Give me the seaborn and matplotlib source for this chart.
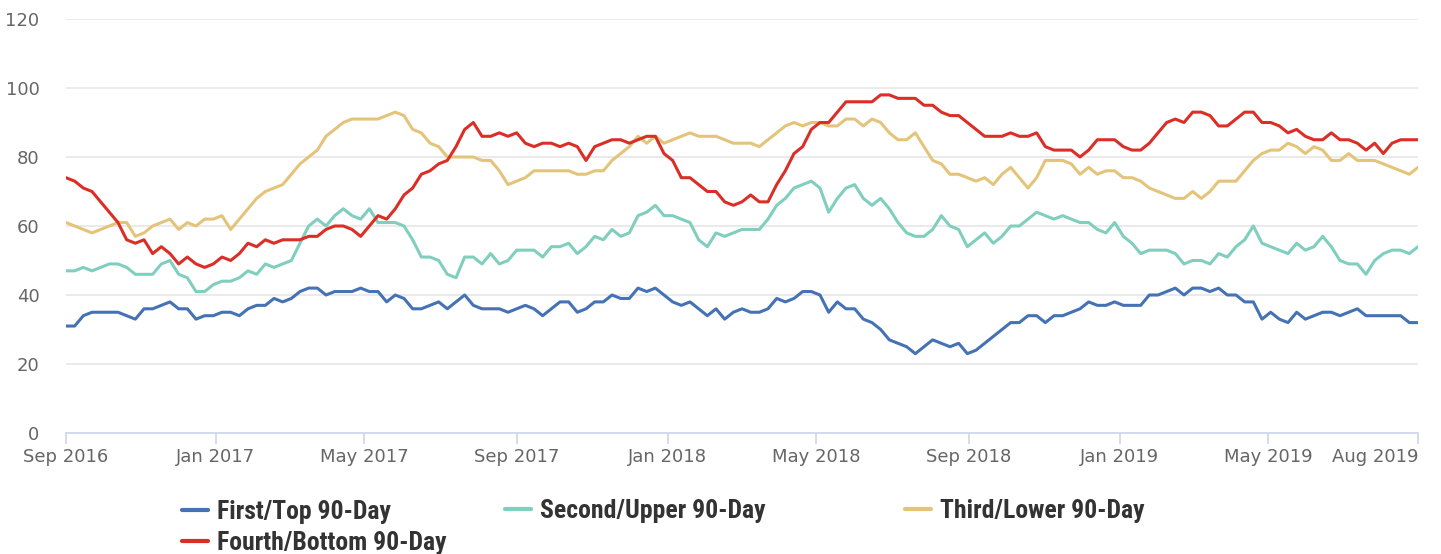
import numpy as np
import pandas as pd
import matplotlib
matplotlib.use("Agg")
import matplotlib.pyplot as plt
from matplotlib.lines import Line2D
import seaborn as sns

# weekly readings, Sep 2016 - Aug 2019
first_top = [31, 31, 34, 35, 35, 35, 35, 34, 33, 36, 36, 37, 38, 36, 36, 33, 34, 34, 35, 35, 34, 36, 37, 37, 39, 38, 39, 41,
             42, 42, 40, 41, 41, 41, 42, 41, 41, 38, 40, 39, 36, 36, 37, 38, 36, 38, 40, 37, 36, 36, 36, 35, 36, 37,
             36, 34, 36, 38, 38, 35, 36, 38, 38, 40, 39, 39, 42, 41, 42, 40, 38, 37, 38, 36, 34, 36, 33, 35, 36, 35, 35,
             36, 39, 38, 39, 41, 41, 40, 35, 38, 36, 36, 33, 32, 30, 27, 26, 25, 23, 25, 27, 26, 25, 26, 23, 24, 26,
             28, 30, 32, 32, 34, 34, 32, 34, 34, 35, 36, 38, 37, 37, 38, 37, 37, 37, 40, 40, 41, 42, 40, 42, 42, 41, 42,
             40, 40, 38, 38, 33, 35, 33, 32, 35, 33, 34, 35, 35, 34, 35, 36, 34, 34, 34, 34, 34, 32, 32]
second_upper = [47, 47, 48, 47, 48, 49, 49, 48, 46, 46, 46, 49, 50, 46, 45, 41, 41, 43, 44, 44, 45, 47, 46, 49, 48, 49, 50, 55,
                60, 62, 60, 63, 65, 63, 62, 65, 61, 61, 61, 60, 56, 51, 51, 50, 46, 45, 51, 51, 49, 52, 49, 50, 53, 53,
                53, 51, 54, 54, 55, 52, 54, 57, 56, 59, 57, 58, 63, 64, 66, 63, 63, 62, 61, 56, 54, 58, 57, 58, 59, 59, 59,
                62, 66, 68, 71, 72, 73, 71, 64, 68, 71, 72, 68, 66, 68, 65, 61, 58, 57, 57, 59, 63, 60, 59, 54, 56, 58,
                55, 57, 60, 60, 62, 64, 63, 62, 63, 62, 61, 61, 59, 58, 61, 57, 55, 52, 53, 53, 53, 52, 49, 50, 50, 49, 52,
                51, 54, 56, 60, 55, 54, 53, 52, 55, 53, 54, 57, 54, 50, 49, 49, 46, 50, 52, 53, 53, 52, 54]
third_lower = [61, 60, 59, 58, 59, 60, 61, 61, 57, 58, 60, 61, 62, 59, 61, 60, 62, 62, 63, 59, 62, 65, 68, 70, 71, 72, 75, 78,
               80, 82, 86, 88, 90, 91, 91, 91, 91, 92, 93, 92, 88, 87, 84, 83, 80, 80, 80, 80, 79, 79, 76, 72, 73, 74,
               76, 76, 76, 76, 76, 75, 75, 76, 76, 79, 81, 83, 86, 84, 86, 84, 85, 86, 87, 86, 86, 86, 85, 84, 84, 84, 83,
               85, 87, 89, 90, 89, 90, 90, 89, 89, 91, 91, 89, 91, 90, 87, 85, 85, 87, 83, 79, 78, 75, 75, 74, 73, 74,
               72, 75, 77, 74, 71, 74, 79, 79, 79, 78, 75, 77, 75, 76, 76, 74, 74, 73, 71, 70, 69, 68, 68, 70, 68, 70, 73,
               73, 73, 76, 79, 81, 82, 82, 84, 83, 81, 83, 82, 79, 79, 81, 79, 79, 79, 78, 77, 76, 75, 77]
fourth_bottom = [74, 73, 71, 70, 67, 64, 61, 56, 55, 56, 52, 54, 52, 49, 51, 49, 48, 49, 51, 50, 52, 55, 54, 56, 55, 56, 56, 56,
                 57, 57, 59, 60, 60, 59, 57, 60, 63, 62, 65, 69, 71, 75, 76, 78, 79, 83, 88, 90, 86, 86, 87, 86, 87, 84,
                 83, 84, 84, 83, 84, 83, 79, 83, 84, 85, 85, 84, 85, 86, 86, 81, 79, 74, 74, 72, 70, 70, 67, 66, 67, 69, 67,
                 67, 72, 76, 81, 83, 88, 90, 90, 93, 96, 96, 96, 96, 98, 98, 97, 97, 97, 95, 95, 93, 92, 92, 90, 88, 86,
                 86, 86, 87, 86, 86, 87, 83, 82, 82, 82, 80, 82, 85, 85, 85, 83, 82, 82, 84, 87, 90, 91, 90, 93, 93, 92, 89,
                 89, 91, 93, 93, 90, 90, 89, 87, 88, 86, 85, 85, 87, 85, 85, 84, 82, 84, 81, 84, 85, 85, 85]

series_names = ["First/Top 90-Day", "Second/Upper 90-Day", "Third/Lower 90-Day", "Fourth/Bottom 90-Day"]
series_colors = ["#4472b4", "#80cebe", "#e4c47a", "#da2e26"]
tick_dates = ["2017-01-01", "2017-05-01", "2017-09-01", "2018-01-01",
              "2018-05-01", "2018-09-01", "2019-01-01", "2019-05-01"]

all_series = [first_top, second_upper, third_lower, fourth_bottom]
for s in all_series:
    assert len(s) == len(first_top), len(s)

dates = pd.date_range("2016-09-02", periods=len(first_top), freq="7D")
df = pd.concat([pd.DataFrame({"date": dates, "value": vals, "series": name})
                for name, vals in zip(series_names, all_series)], ignore_index=True)

sns.set_theme(style="white")
plt.rcParams["font.family"] = ["DejaVu Sans"]

W, H = 1441, 554
fig = plt.figure(figsize=(W / 100, H / 100), dpi=100)
ax = fig.add_axes([66 / W, 1 - 433 / H, (1418 - 66) / W, (433 - 19) / H])

sns.lineplot(data=df, x="date", y="value", hue="series", hue_order=series_names,
             palette=series_colors, linewidth=2.2, legend=False, ax=ax, zorder=3)

# axes styling
ax.set_ylim(0, 120)
ax.set_yticks(np.arange(0, 121, 20))
ax.set_xlim(dates[0], dates[-1])
ax.grid(axis="y", color="#e6e6e6", linewidth=1.2, zorder=0)
ax.grid(axis="x", visible=False)
for side in ["left", "right", "top"]:
    ax.spines[side].set_visible(False)
ax.spines["bottom"].set_color("#ccd6eb")
ax.spines["bottom"].set_linewidth(1.2)
ax.set_xlabel("")
ax.set_ylabel("")

xt = [dates[0]] + [pd.Timestamp(d) for d in tick_dates] + [dates[-1]]
ax.set_xticks(xt)
ax.set_xticklabels([d.strftime("%b %Y") for d in xt])
ax.xaxis.get_majorticklabels()[-1].set_horizontalalignment("right")
ax.tick_params(axis="x", direction="out", length=8, width=1.2, color="#ccd6eb",
               labelcolor="#666666", labelsize=13, pad=3, bottom=True)
ax.tick_params(axis="y", length=0, labelcolor="#666666", labelsize=13, pad=19)

# legend, laid out like the original (three groups)
lfont = {"family": ["Roboto Condensed", "Roboto"], "weight": "bold", "size": 18.5}
def line_handle(c):
    return Line2D([0], [0], color=c, linewidth=3)

common = dict(frameon=False, prop=lfont, handlelength=1.0, handletextpad=0.35,
              borderpad=0, borderaxespad=0, labelcolor="#333333", labelspacing=0.28)
fig.legend([line_handle(series_colors[0]), line_handle(series_colors[3])],
           [series_names[0], series_names[3]], loc="center left",
           bbox_to_anchor=(182 / W, 1 - 527.5 / H), **common)
fig.legend([line_handle(series_colors[1])], [series_names[1]], loc="center left",
           bbox_to_anchor=(505 / W, 1 - 511 / H), **common)
fig.legend([line_handle(series_colors[2])], [series_names[2]], loc="center left",
           bbox_to_anchor=(905 / W, 1 - 511 / H), **common)

fig.savefig("out.png", dpi=100)
